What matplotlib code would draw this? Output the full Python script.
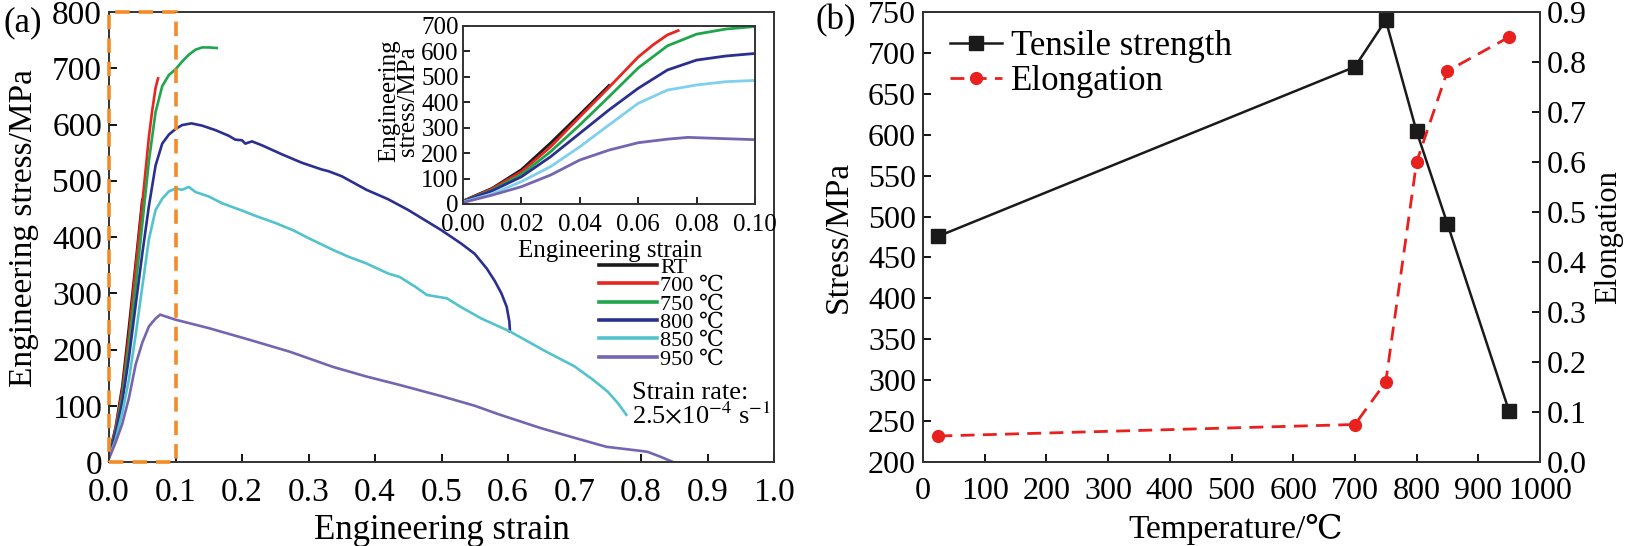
import numpy as np
import matplotlib
matplotlib.use("Agg")
import matplotlib.pyplot as plt
from matplotlib.patches import Rectangle

plt.rcParams['font.family'] = ['Liberation Serif', 'DejaVu Serif', 'Noto Sans CJK SC']
plt.rcParams['mathtext.fontset'] = 'stix'

# ---- (a) engineering stress-strain curves ----
labels_a = ["RT", "700 ℃", "750 ℃", "800 ℃", "850 ℃", "950 ℃"]
colors_a = ["#1a1a1a", "#e8251f", "#1fa64a", "#2b2f8f", "#52c3cc", "#7565b0"]
colors_inset = ["#1a1a1a", "#e8251f", "#1fa64a", "#2b2f8f", "#7fd0ef", "#7565b0"]

strain_rt = [0, 0.01, 0.02, 0.03, 0.04, 0.05]
stress_rt = [12, 62, 135, 240, 352, 466]

strain_700 = [0, 0.01, 0.02, 0.03, 0.04, 0.05, 0.06, 0.065, 0.07, 0.0737]
stress_700 = [10, 60, 127, 225, 343, 459, 578, 625, 665, 682]

strain_750 = [0, 0.01, 0.02, 0.03, 0.04, 0.05, 0.06, 0.07, 0.08, 0.09, 0.1,
              0.11, 0.12, 0.13, 0.14, 0.15, 0.162]
stress_750 = [10, 55, 116, 206, 311, 422, 535, 622, 668, 688, 698,
              712, 724, 733, 737, 737, 736]

strain_800 = [0, 0.01, 0.02, 0.03, 0.04, 0.05, 0.06, 0.07, 0.08, 0.09, 0.1,
              0.11, 0.124, 0.14, 0.16, 0.18, 0.19, 0.2, 0.205, 0.215, 0.23,
              0.26, 0.29, 0.32, 0.33, 0.35, 0.387, 0.42, 0.45, 0.5, 0.53,
              0.55, 0.568, 0.58, 0.59, 0.598, 0.602, 0.603]
stress_800 = [10, 52, 107, 186, 278, 370, 455, 527, 566, 582, 592,
              599, 602, 598, 590, 580, 573, 572, 566, 570, 563,
              547, 532, 520, 517, 508, 484, 467, 448, 412, 388,
              370, 344, 322, 300, 276, 250, 232]

strain_850 = [0, 0.01, 0.02, 0.03, 0.04, 0.05, 0.06, 0.07, 0.08, 0.09, 0.1,
              0.11, 0.12, 0.13, 0.15, 0.17, 0.2, 0.217, 0.25, 0.277, 0.3,
              0.337, 0.36, 0.387, 0.42, 0.437, 0.46, 0.478, 0.508, 0.53,
              0.56, 0.603, 0.653, 0.7, 0.728, 0.75, 0.765, 0.778]
stress_850 = [8, 40, 88, 147, 225, 311, 396, 448, 468, 481, 486,
              484, 489, 480, 472, 460, 447, 439, 425, 412, 398,
              377, 365, 353, 335, 329, 312, 297, 291, 275,
              255, 232, 199, 170, 146, 125, 105, 84]

strain_950 = [0, 0.01, 0.02, 0.03, 0.04, 0.05, 0.06, 0.07, 0.077, 0.087, 0.1,
              0.15, 0.212, 0.272, 0.337, 0.387, 0.437, 0.5, 0.55, 0.588,
              0.65, 0.7, 0.748, 0.798, 0.81, 0.83, 0.848]
stress_950 = [6, 35, 68, 114, 173, 212, 241, 255, 262, 258, 253,
              238, 217, 196, 169, 152, 137, 117, 100, 84,
              60, 43, 27, 20, 18, 9, 0]

strains = [strain_rt, strain_700, strain_750, strain_800, strain_850, strain_950]
stresses = [stress_rt, stress_700, stress_750, stress_800, stress_850, stress_950]

inset_xlim = (0, 0.10)
main_ylim = (0, 800)

# ---- (b) tensile strength and elongation vs temperature ----
temperature = [25, 700, 750, 800, 850, 950]
tensile_strength = [476, 683, 740, 604, 491, 262]
elongation = [0.052, 0.075, 0.16, 0.60, 0.782, 0.85]


def style_spines(a):
    for sp in a.spines.values():
        sp.set_linewidth(1.4)
        sp.set_color("#333333")


fig = plt.figure(figsize=(16.29, 5.46), dpi=100)

ax = fig.add_axes([109 / 1629, 84 / 546, 665 / 1629, 450 / 546])
for s, e, c, lab in zip(strains, stresses, colors_a, labels_a):
    ax.plot(s, e, color=c, lw=1.9, label=lab)
ax.set_xlim(0, 1.0)
ax.set_ylim(*main_ylim)
ax.set_xticks(np.arange(0, 1.01, 0.1))
ax.set_xticklabels([f"{v:.1f}" for v in np.arange(0, 1.01, 0.1)])
ax.set_yticks(np.arange(0, 801, 100))
ax.tick_params(direction='in', length=6, width=1.3, labelsize=24)
ax.tick_params(axis='x', pad=11)
ax.tick_params(axis='y', pad=5)
ax.set_xlabel("Engineering strain", fontsize=25)
ax.set_ylabel("Engineering stress/MPa", fontsize=24)
ax.xaxis.set_label_coords(0.5, -0.115)
ax.yaxis.set_label_coords(-0.105, 0.52)
style_spines(ax)
ax.text(-0.158, 0.975, "(a)", transform=ax.transAxes, fontsize=25, va='center', ha='left')

rect = Rectangle((inset_xlim[0], main_ylim[0]), inset_xlim[1] - inset_xlim[0],
                 main_ylim[1] - main_ylim[0], fill=False, ec="#f28c28", lw=2.6,
                 ls=(0, (4, 2.5)), clip_on=False, zorder=3)
ax.add_patch(rect)

leg = ax.legend(loc='upper left', bbox_to_anchor=(0.737, 0.455), frameon=False,
                fontsize=16, handlelength=2.6, handletextpad=0.15,
                labelspacing=-0.1, borderpad=0, borderaxespad=0)
for h in leg.get_lines():
    h.set_linewidth(2.6)
ax.text(0.786, 0.153, "Strain rate:", transform=ax.transAxes, fontsize=19, va='center')
ax.text(0.786, 0.104, r"2.5$\times$10$^{-4}$ s$^{-1}$", transform=ax.transAxes,
        fontsize=19, va='center')

# inset
axi = fig.add_axes([463 / 1629, (546 - 204) / 546, 292 / 1629, 178 / 546])
for s, e, c in zip(strains, stresses, colors_inset):
    axi.plot(s, e, color=c, lw=2.0)
axi.set_xlim(*inset_xlim)
axi.set_ylim(0, 700)
axi.set_xticks(np.arange(0, 0.101, 0.02))
axi.set_xticklabels([f"{v:.2f}" for v in np.arange(0, 0.101, 0.02)])
axi.set_yticks(np.arange(0, 701, 100))
axi.tick_params(direction='in', length=5, width=1.2, labelsize=18, pad=3)
axi.tick_params(axis='x', pad=7)
axi.set_xlabel("Engineering strain", fontsize=18)
axi.set_ylabel("Engineering\nstress/MPa", fontsize=18, linespacing=0.85)
axi.xaxis.set_label_coords(0.505, -0.2)
axi.yaxis.set_label_coords(-0.15, 0.58)
style_spines(axi)

# ---- (b) ----
axb = fig.add_axes([923 / 1629, 84 / 546, 617 / 1629, 450 / 546])
l1, = axb.plot(temperature, tensile_strength, color="#1a1a1a", lw=1.8,
               marker='s', markersize=9.5, label="Tensile strength")
axb.set_xlim(0, 1000)
axb.set_ylim(200, 750)
axb.set_xticks(np.arange(0, 1001, 100))
axb.set_yticks(np.arange(200, 751, 50))
axb.tick_params(direction='in', length=6, width=1.3, labelsize=23)
axb.tick_params(axis='x', pad=11)
axb.tick_params(axis='y', pad=5)
axb.set_xlabel("Temperature/℃", fontsize=24)
axb.set_ylabel("Stress/MPa", fontsize=24)
axb.xaxis.set_label_coords(0.506, -0.115)
axb.yaxis.set_label_coords(-0.113, 0.5)
axb.text(-0.175, 0.98, "(b)", transform=axb.transAxes, fontsize=25, va='center', ha='left')

axr = axb.twinx()
l2, = axr.plot(temperature, elongation, color="#e8201e", lw=2.0, ls=(0, (5, 3)),
               marker='o', markersize=8.5, label="Elongation")
axr.set_ylim(0, 0.9)
axr.set_yticks(np.arange(0, 0.91, 0.1))
axr.set_yticklabels([f"{v:.1f}" for v in np.arange(0, 0.91, 0.1)])
axr.tick_params(direction='in', length=6, width=1.3, labelsize=23, pad=5)
axr.set_ylabel("Elongation", fontsize=22)
axr.yaxis.set_label_coords(1.088, 0.5)
style_spines(axb)
style_spines(axr)

axb.legend(handles=[l1, l2], loc='upper left', bbox_to_anchor=(0.044, 0.96),
           frameon=False, fontsize=25, handlelength=1.5, handletextpad=0.26,
           labelspacing=0.05, borderpad=0, borderaxespad=0)

fig.savefig("out.png", dpi=100)
